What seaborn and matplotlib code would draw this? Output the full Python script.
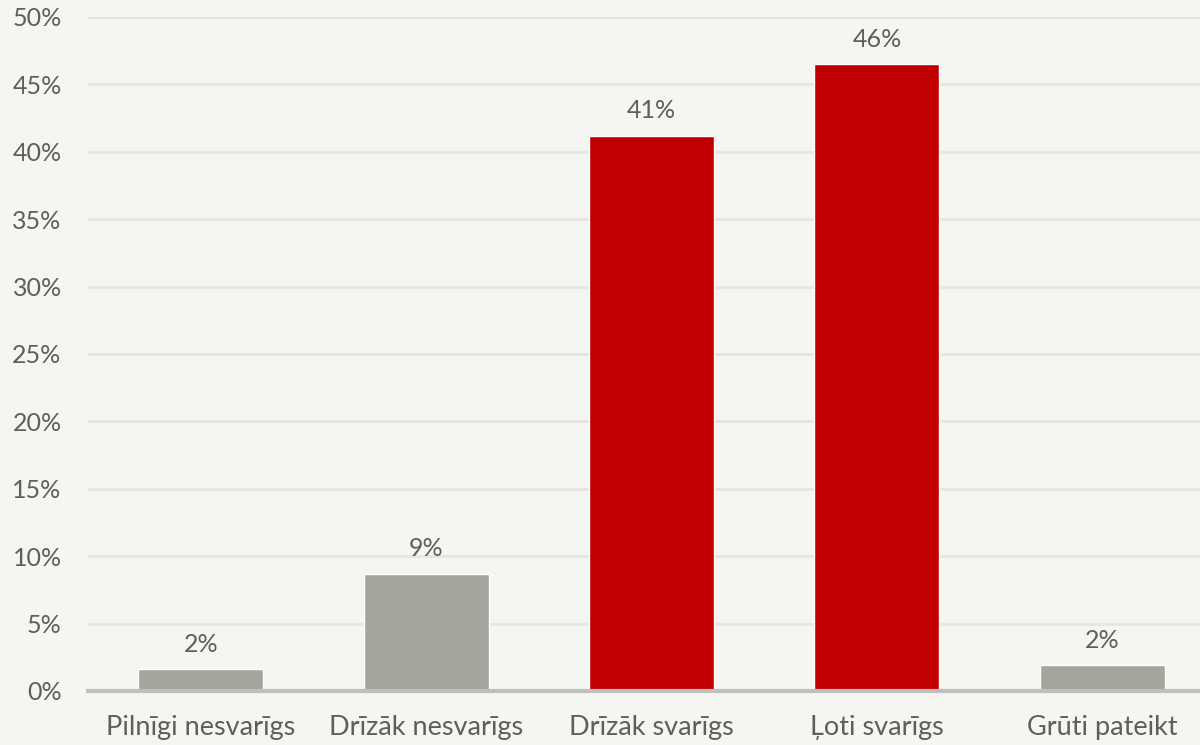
import matplotlib
matplotlib.use("Agg")
import matplotlib.pyplot as plt
import seaborn as sns
import pandas as pd
from matplotlib.ticker import FuncFormatter

categories = ["Pilnīgi nesvarīgs", "Drīzāk nesvarīgs", "Drīzāk svarīgs", "Ļoti svarīgs", "Grūti pateikt"]
values = [1.6, 8.7, 41.2, 46.5, 1.9]
labels = ["2%", "9%", "41%", "46%", "2%"]
colors = ["#A6A59D", "#A6A59D", "#C00000", "#C00000", "#A6A59D"]

sns.set_theme(style="white")
plt.rcParams['font.family'] = ['Lato', 'DejaVu Sans']
bg = "#F5F5F1"
txt = "#5E5E5E"

fig = plt.figure(figsize=(12, 7.45), dpi=100, facecolor=bg)
ax = fig.add_axes([88/1200, 1 - 691/745, (1215 - 88)/1200, (691 - 17)/745])
ax.set_facecolor(bg)

df = pd.DataFrame({"cat": categories, "val": values})
sns.barplot(data=df, x="cat", y="val", hue="cat", palette=colors, legend=False,
            width=0.555, ax=ax, zorder=3, saturation=1)

ax.set_ylim(0, 50)
ax.set_xlim(-0.5, 4.5)
ax.set_yticks(range(0, 51, 5))
ax.yaxis.set_major_formatter(FuncFormatter(lambda v, p: f"{int(v)}%"))
ax.grid(axis="y", color="#EBE3E1", linewidth=2, zorder=0)
ax.grid(axis="x", visible=False)
for s in ["top", "right", "left"]:
    ax.spines[s].set_visible(False)
ax.spines["bottom"].set_color("#BFBFBF")
ax.spines["bottom"].set_linewidth(3)
ax.spines["bottom"].set_zorder(4)
ax.set_xlabel("")
ax.set_ylabel("")
ax.tick_params(axis="y", length=0, pad=19, labelsize=18, labelcolor=txt)
ax.tick_params(axis="x", length=0, pad=17, labelsize=19.5, labelcolor=txt)

for i, (v, lab) in enumerate(zip(values, labels)):
    ax.text(i, v + 1.0, lab, ha="center", va="bottom", fontsize=18, color=txt)

fig.savefig("out.png", dpi=100, facecolor=bg)
